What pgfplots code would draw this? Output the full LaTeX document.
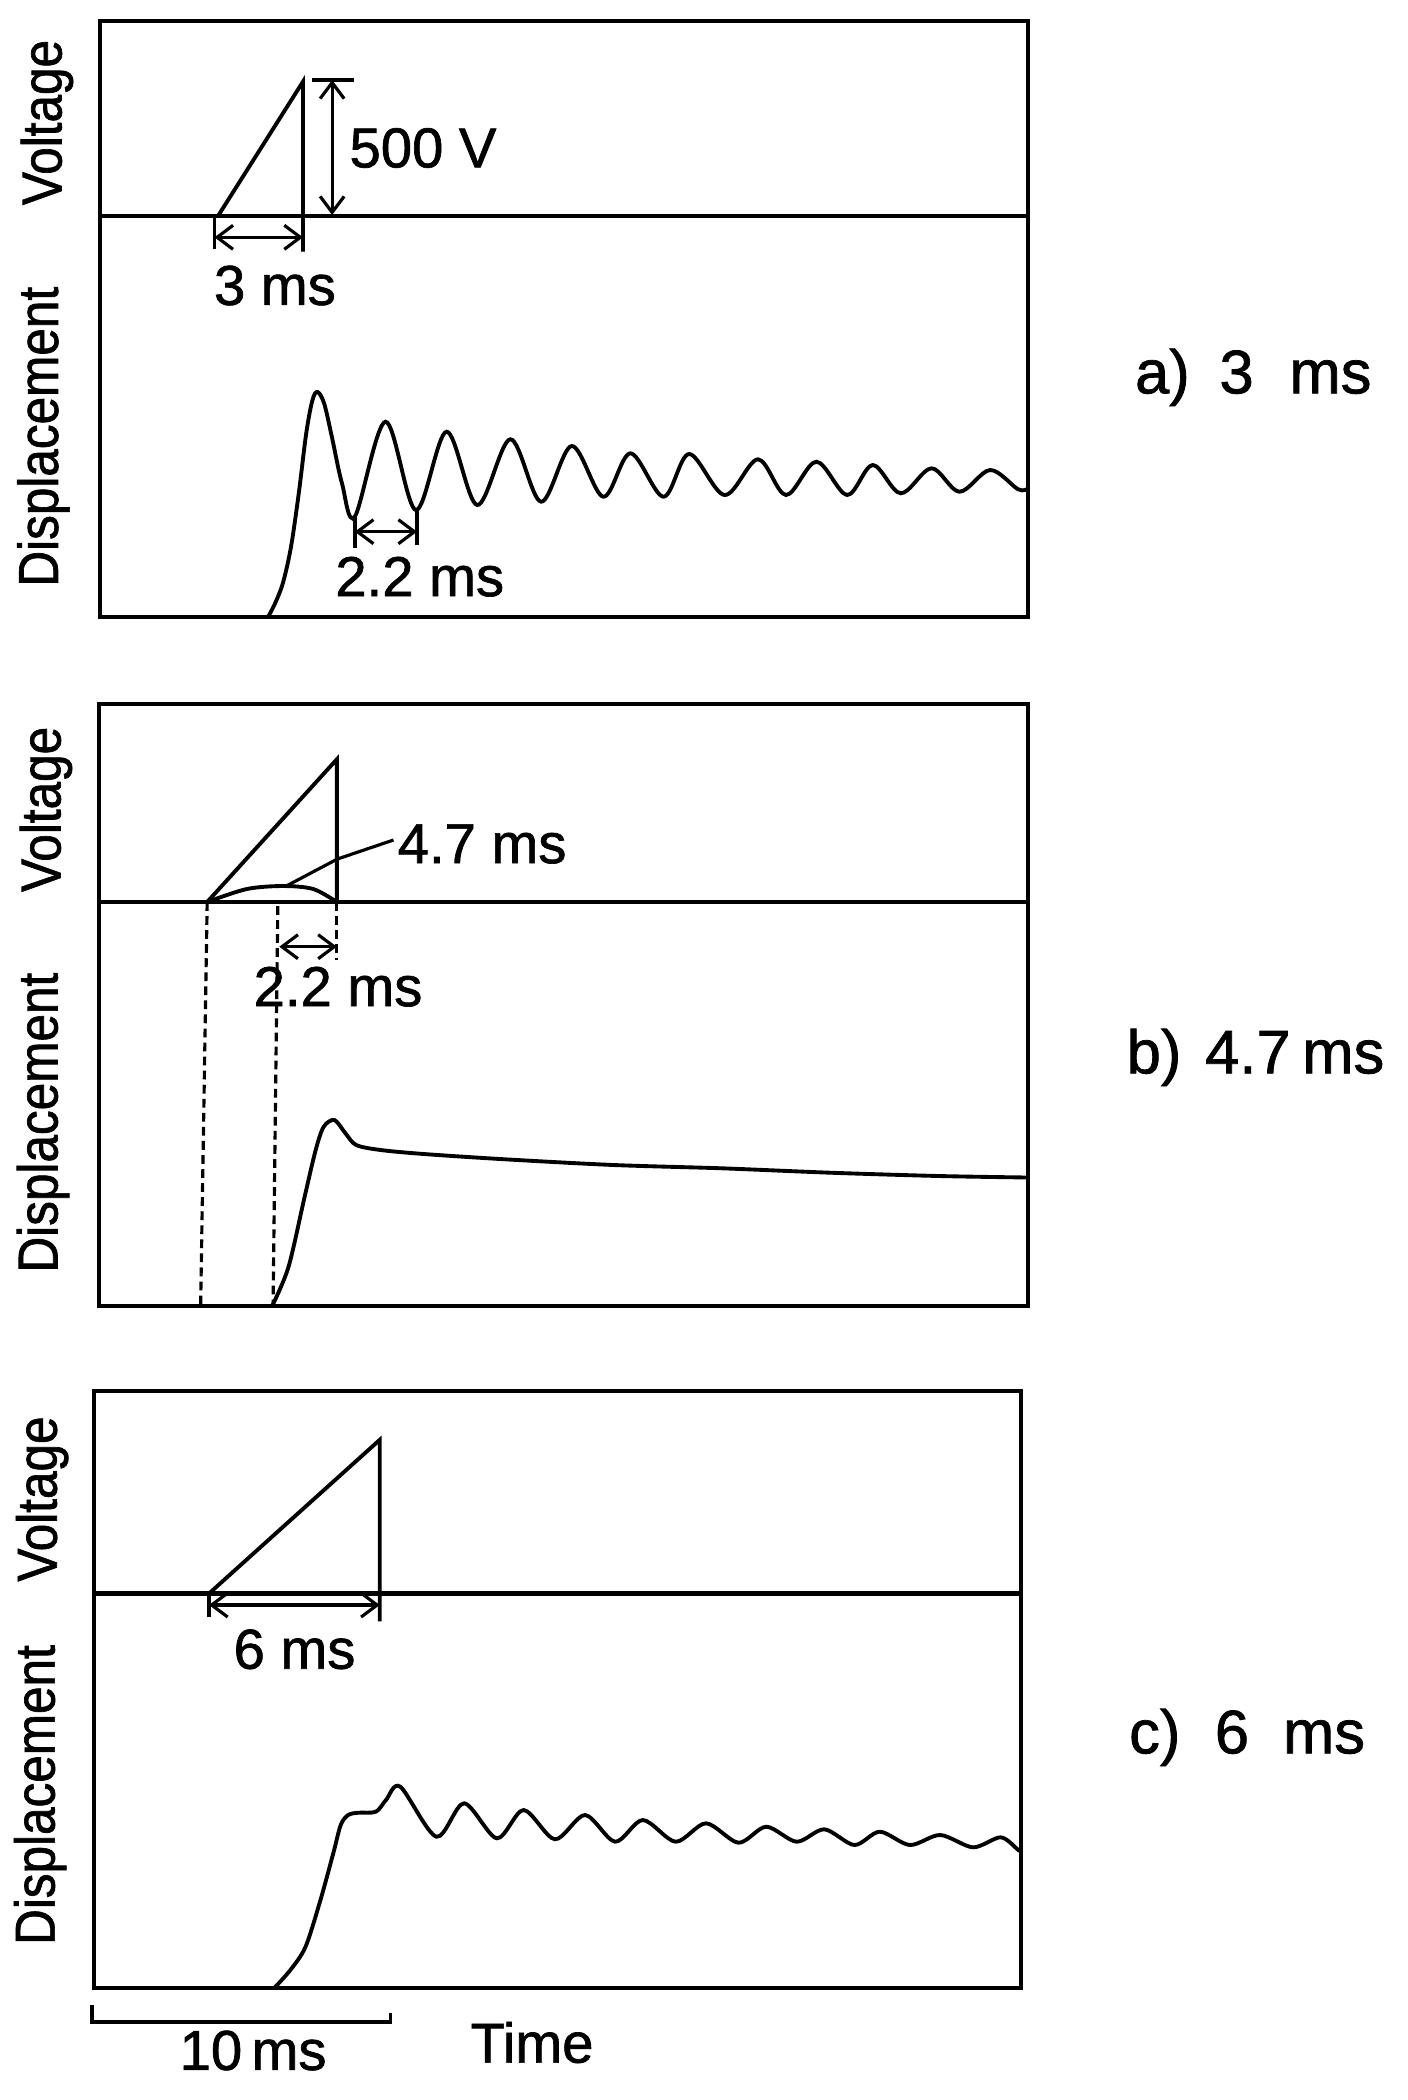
\documentclass[border=0pt]{standalone}
\usepackage{fontspec}
\setmainfont[FakeBold=1.2]{Liberation Sans}
\newfontfamily\labfont[FakeStretch=0.88,FakeBold=1.2]{Liberation Sans}
\usepackage{pgfplots}
\usepackage{pgfplotstable}
\pgfplotsset{compat=1.18}
\usetikzlibrary{arrows.meta}

% displacement traces: time (ms) vs. height above panel floor (px of the plot)
\pgfplotstableread{
t h
5.64 0
5.90 15.3
6.15 35.3
6.41 70.3
6.67 123.7
6.92 183.7
7.13 217
7.30 225
7.52 213.7
7.78 180.3
8.12 133.7
8.55 100.3
9.58 195.3
10.60 107
11.63 185.3
12.66 112
13.77 177.7
14.80 115.3
15.83 171
16.89 120.3
17.80 163.7
18.91 120.3
19.77 163
20.96 122
22.08 157.7
23.02 122
24.04 155.3
25.07 122
25.93 152
26.87 123.7
27.90 148.7
28.84 125.3
29.87 147
30.81 127.7
31.14 128.5
}\dispA

\pgfplotstableread{
t h
5.81 0
6.36 39.3
6.90 109.3
7.27 156
7.54 179.3
7.90 186
8.27 172.7
8.63 161
9.45 156
10.90 152
13.63 146.7
17.27 141
20.91 137.7
24.54 133.3
28.18 130
31.17 128.5
}\dispB

\pgfplotstableread{
t h
6.05 0
6.59 18
7.10 41.3
7.60 88
8.03 134.7
8.28 163
8.53 173
8.87 175.3
9.46 176.3
9.80 188
10.28 201.3
11.49 151.3
12.42 184.7
13.52 149.7
14.42 178
15.47 148.7
16.48 173
17.49 146.3
18.42 168
19.52 146.3
20.54 164.7
21.63 145.3
22.56 161.3
23.58 146.3
24.51 158.7
25.52 143
26.37 156.3
27.38 143
28.40 153
29.50 140.7
30.43 150.7
31.02 138
31.11 137
}\dispC

\tikzset{
  trace/.style={black, line width=1.1pt},
  base/.style={black, line width=1.4pt},
  dim/.style={black, line width=0.9pt,
    {Straight Barb[length=1.6mm,width=2.4mm]}-{Straight Barb[length=1.6mm,width=2.4mm]}},
  ann/.style={font=\fontsize{16}{19}\selectfont, inner sep=0pt},
  lab/.style={font=\labfont\fontsize{16}{19}\selectfont, rotate=90, inner sep=0pt},
  side/.style={font=\fontsize{17.5}{21}\selectfont, anchor=base, inner sep=0pt},
}
\pgfplotsset{
  panel/.style={
    anchor=south west, scale only axis, ticks=none, clip=false,
    xmin=0, ymin=0,
    axis line style={line width=1.4pt},
  },
}

\begin{document}
\begin{tikzpicture}
\path (0,0) rectangle (140.8mm,-210mm);

% ---------------- a) 3 ms
\begin{axis}[panel, at={(10mm,-61.7mm)}, width=92.8mm, height=59.6mm,
  xmax=31.14, ymax=596]
\addplot[base] coordinates {(0,401) (31.14,401)};
\addplot[trace] coordinates {(3.96,401) (6.81,535.3) (6.81,365.3)};
\addplot[trace] coordinates {(3.84,400) (3.84,367.7)};
\addplot[trace] coordinates {(7.13,537) (8.51,537)};
\addplot[trace] coordinates {(8.55,100) (8.55,69)};
\addplot[trace] coordinates {(10.64,107) (10.64,72)};
\addplot[trace, smooth, tension=0.55] table {\dispA};
\draw[dim] (axis cs:3.84,379.7) -- (axis cs:6.81,379.7);
\draw[dim] (axis cs:7.79,537) -- (axis cs:7.79,402);
\draw[dim] (axis cs:8.55,85.3) -- (axis cs:10.64,85.3);
\node[ann] at (axis cs:5.87,331.5) {3 ms};
\node[ann] at (axis cs:10.84,469) {500 V};
\node[ann] at (axis cs:10.73,40.3) {2.2 ms};
\node[lab] at (axis cs:-1.78,494.5) {Voltage};
\node[lab] at (axis cs:-1.90,180.3) {Displacement};
\node[side] at (axis cs:35.65,223.7) {a)};
\node[side] at (axis cs:38.14,223.7) {3};
\node[side] at (axis cs:41.29,223.7) {ms};
\end{axis}

% ---------------- b) 4.7 ms
\begin{axis}[panel, at={(9.9mm,-130.6mm)}, width=92.9mm, height=60.2mm,
  xmax=31.17, ymax=602]
\addplot[base] coordinates {(0,404) (31.17,404)};
\addplot[trace] coordinates {(3.63,404) (7.98,546.7) (7.98,404)};
\addplot[trace, smooth] coordinates {(3.63,404) (4.96,417) (6.18,420) (7.19,417) (7.98,404)};
\addplot[trace, line width=0.9pt] coordinates {(6.24,419.3) (8.0,447) (9.88,466)};
\addplot[trace, line width=0.9pt, dash pattern=on 2.5pt off 1.5pt] coordinates {(3.63,404) (3.41,0)};
\addplot[trace, line width=0.9pt, dash pattern=on 2.5pt off 1.5pt] coordinates {(6.0,400) (5.84,0)};
\addplot[trace, line width=0.9pt, dash pattern=on 2.5pt off 1.5pt] coordinates {(7.98,404) (7.98,346)};
\addplot[trace, smooth, tension=0.5] table {\dispB};
\draw[dim] (axis cs:6.05,359.3) -- (axis cs:7.98,359.3);
\node[ann, anchor=west] at (axis cs:10.0,462) {4.7 ms};
\node[ann] at (axis cs:8.02,319.3) {2.2 ms};
\node[lab] at (axis cs:-1.78,496.6) {Voltage};
\node[lab] at (axis cs:-1.88,183.4) {Displacement};
\node[side] at (axis cs:35.40,232.7) {b)};
\node[side] at (axis cs:38.55,232.7) {4.7};
\node[side] at (axis cs:41.75,232.7) {ms};
\end{axis}

% ---------------- c) 6 ms
\begin{axis}[panel, at={(9.4mm,-198.8mm)}, width=92.7mm, height=59.7mm,
  xmax=31.11, ymax=597]
\addplot[base] coordinates {(0,394.5) (31.11,394.5)};
\addplot[trace] coordinates {(3.86,394.5) (9.59,548.2) (9.59,366.6)};
\addplot[trace] coordinates {(3.86,397) (3.86,371)};
\addplot[trace, smooth, tension=0.5] table {\dispC};
\draw[dim] (axis cs:3.86,383) -- (axis cs:9.59,383);
\node[ann] at (axis cs:6.73,338.7) {6 ms};
\node[lab] at (axis cs:-1.74,489) {Voltage};
\node[lab] at (axis cs:-1.81,193) {Displacement};
\node[side] at (axis cs:35.60,234.7) {c)};
\node[side] at (axis cs:38.19,234.7) {6};
\node[side] at (axis cs:41.28,234.7) {ms};
% time scale bar
\draw[black, line width=1.1pt] (axis cs:-0.07,-17) -- (axis cs:-0.07,-33.8)
  -- (axis cs:9.95,-33.8) -- (axis cs:9.95,-25);
\node[ann] at (axis cs:5.34,-62.5) {10\,ms};
\node[ann] at (axis cs:14.7,-54.5) {Time};
\end{axis}
\end{tikzpicture}
\end{document}
